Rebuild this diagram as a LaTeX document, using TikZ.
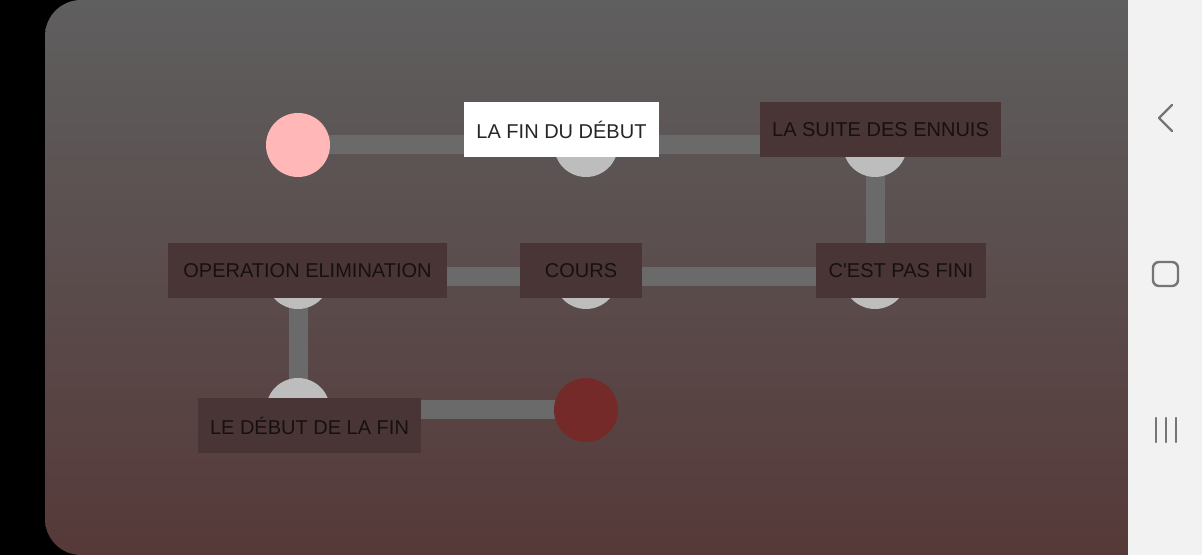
\documentclass[tikz,border=0pt]{standalone}
\usepackage{fontspec}
\setmainfont{Liberation Sans}[Ligatures=TeXOff]
\pgfdeclarelayer{back}
\pgfdeclarelayer{wires}
\pgfsetlayers{back,wires,main}
\definecolor{panetop}{HTML}{5F5F5F}
\definecolor{panebot}{HTML}{563939}
\definecolor{navbg}{HTML}{F2F2F2}
\definecolor{navicon}{HTML}{757575}
\definecolor{wiregray}{HTML}{6A6A6A}
\definecolor{dotgray}{HTML}{BDBDBD}
\definecolor{dotpink}{HTML}{FFB7B7}
\definecolor{dotred}{HTML}{752A2A}
\definecolor{tagfill}{HTML}{4A3536}
\definecolor{tagtext}{HTML}{161010}
\begin{document}
\begin{tikzpicture}[>=latex,line join=bevel,
  dot/.style={circle,inner sep=0pt,minimum size=64bp,fill=dotgray},
  wire/.style={draw=wiregray,line width=19bp},
  tag/.style={rectangle,inner xsep=0pt,inner ysep=0pt,minimum height=55bp,minimum width=#1,
    font=\fontsize{20bp}{24bp}\selectfont,text=tagtext,fill=tagfill},
  navline/.style={draw=navicon,line width=2.4bp,line cap=round,line join=round},
  ]
%%
\useasboundingbox (0bp,0bp) rectangle (1202bp,555bp);
\begin{pgfonlayer}{back}
\fill [black] (0bp,0bp) rectangle (1202bp,555bp);
\shade [top color=panetop,bottom color=panebot,rounded corners=36bp] (45bp,0bp) rectangle (1175bp,555bp);
\fill [navbg] (1128bp,0bp) rectangle (1202bp,555bp);
\end{pgfonlayer}
%
\node (dot_0) at (298bp,410bp) [dot,fill=dotpink] {};
  \node (dot_1) at (586bp,410bp) [dot] {};
  \node (dot_2) at (875bp,410bp) [dot] {};
  \node (dot_3) at (875bp,278bp) [dot] {};
  \node (dot_4) at (586bp,278bp) [dot] {};
  \node (dot_5) at (298bp,278bp) [dot] {};
  \node (dot_6) at (298bp,145bp) [dot] {};
  \node (dot_7) at (586bp,145bp) [dot,fill=dotred] {};
%
\node (tag_1) at (561.5bp,425.5bp) [tag=195bp,fill=white,text=black!85] {LA FIN DU DÉBUT};
  \node (tag_2) at (880.5bp,425.5bp) [tag=241bp] {LA SUITE DES ENNUIS};
  \node (tag_3) at (901bp,284.5bp) [tag=170bp] {C'EST PAS FINI};
  \node (tag_4) at (581bp,284.5bp) [tag=122bp] {COURS};
  \node (tag_5) at (307.5bp,284.5bp) [tag=279bp] {OPERATION ELIMINATION};
  \node (tag_6) at (309.5bp,129.5bp) [tag=223bp] {LE DÉBUT DE LA FIN};
%
\begin{pgfonlayer}{wires}
\draw [wire] (dot_0.center) -- (dot_1.center);
  \draw [wire] (dot_1.center) -- (dot_2.center);
  \draw [wire] (dot_2.center) -- (dot_3.center);
  \draw [wire] (dot_3.center) -- (dot_4.center);
  \draw [wire] (dot_4.center) -- (dot_5.center);
  \draw [wire] (dot_5.center) -- (dot_6.center);
  \draw [wire] (dot_6.center) -- (dot_7.center);
\end{pgfonlayer}
%
\draw [navline] (1172bp,450bp) -- (1159bp,437bp) -- (1172bp,424bp);
\draw [navline,rounded corners=6bp] (1153bp,293bp) rectangle (1178bp,269bp);
\foreach \x in {1156,1166,1176}
  \draw [navline] (\x bp,113bp) -- (\x bp,137bp);
%
\end{tikzpicture}
\end{document}
